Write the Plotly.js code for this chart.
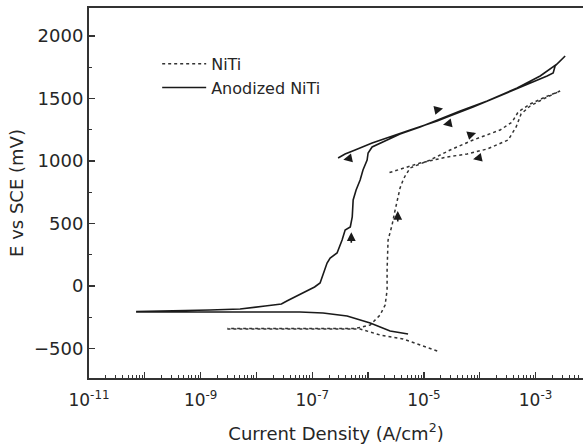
<!DOCTYPE html>
<html>
<head>
<meta charset="utf-8">
<script src="https://cdn.plot.ly/plotly-3.0.1.min.js"></script>
<style>html,body{margin:0;padding:0;background:#fff;overflow:hidden}#chart{width:583px;height:446px}</style>
</head>
<body>
<div id="chart"></div>
<script>
// NiTi (dotted): cathodic branch, anodic rise, cyclic loop
const nitiCurrent = [1.73e-5, 8.55e-6, 4.24e-6, 1.64e-6, 7.2e-7, 3.1e-9,
  3.1e-9, 5.85e-7, 1.09e-6, 1.64e-6, 2.02e-6, 2.19e-6, 2.19e-6, 2.28e-6, 2.69e-6, 3.05e-6, 3.45e-6, 3.74e-6, 4.24e-6, 4.6e-6,
  5.66e-6, 1.29e-5, 2.95e-5, 7.6e-5, 2.32e-4, 3.81e-4, 4.88e-4, 8.0e-4, 1.49e-3, 2.76e-3,
  1.49e-3, 8.0e-4, 5.5e-4, 4.49e-4, 3.23e-4, 1.36e-4, 5.94e-5, 2.61e-5, 8.55e-6, 3.74e-6, 2.28e-6];
const nitiPotential = [-520, -472, -424, -392, -344, -344,
  -340, -340, -312, -232, -152, -32, 128, 368, 488, 608, 728, 784, 848, 880,
  944, 1008, 1088, 1168, 1248, 1312, 1392, 1456, 1512, 1560,
  1504, 1440, 1376, 1272, 1168, 1096, 1056, 1032, 984, 936, 904];

// Anodized NiTi (solid)
const anodCurrent = [5.2e-6, 2.48e-6, 1.09e-6, 4.2e-7, 1.56e-7, 6.0e-8, 7.2e-11,
  7.2e-11, 1.47e-9, 5.1e-9, 1.43e-8, 1.98e-8, 2.8e-8, 3.5e-8, 5.4e-8, 7.5e-8, 1.1e-7, 1.38e-7,
  1.84e-7, 2.09e-7, 2.78e-7, 3.42e-7, 3.88e-7, 4.8e-7, 5.2e-7, 5.4e-7, 6.1e-7, 7.2e-7, 8.1e-7, 9.6e-7, 1.0e-6,
  1.18e-6, 2.02e-6, 3.74e-6, 8.55e-6, 1.95e-5, 4.46e-5, 1.36e-4, 4.68e-4, 1.21e-3, 2.44e-3, 3.39e-3,
  2.24e-3, 2.07e-3, 1.61e-3, 6.0e-4, 2.05e-4, 7.6e-5, 2.61e-5, 1.73e-5, 5.66e-6, 2.48e-6, 1.18e-6, 5.85e-7, 3.87e-7, 2.9e-7];
const anodPotential = [-384, -360, -296, -240, -216, -208, -208,
  -204, -192, -184, -160, -152, -144, -120, -80, -48, -8, 24,
  184, 224, 264, 368, 448, 472, 552, 688, 768, 848, 928, 1008, 1064,
  1112, 1160, 1216, 1272, 1336, 1400, 1480, 1584, 1680, 1776, 1840,
  1760, 1704, 1680, 1600, 1512, 1432, 1352, 1320, 1248, 1192, 1144, 1088, 1056, 1024];

// scan-direction arrows (head position on the curve, direction in screen px)
const arrowCurrent = [3.6e-7, 5.0e-7, 2.2e-5, 2.2e-5, 3.4e-6, 8.6e-5, 7.6e-5];
const arrowPotential = [1010, 430, 1420, 1290, 600, 1225, 1015];
const arrowDx = [9, 0, -9, 9, 0, -9, 9];
const arrowDy = [-2, 12, 2, -2, 12, 3, -2];

const seriesNames = ['NiTi', 'Anodized NiTi'];
const decadeTicks = [1e-11, 1e-10, 1e-9, 1e-8, 1e-7, 1e-6, 1e-5, 1e-4, 1e-3];
const decadeLabels = ['10<sup>-11</sup>', ' ', '10<sup>-9</sup>', ' ', '10<sup>-7</sup>', ' ', '10<sup>-5</sup>', ' ', '10<sup>-3</sup>'];
const potentialTicks = [-500, 0, 500, 1000, 1500, 2000];

const minorVals = [];
decadeTicks.concat([1e-2]).forEach(d => { for (let k = 2; k <= 9; k++) minorVals.push(d * k); });

const FONT = 'DejaVu Sans, sans-serif';
const INK = '#262626';

const traces = [
  {x: nitiCurrent, y: nitiPotential, name: seriesNames[0], mode: 'lines', type: 'scatter',
   line: {color: '#333', width: 1.5, dash: 'dot'}},
  {x: anodCurrent, y: anodPotential, name: seriesNames[1], mode: 'lines', type: 'scatter',
   line: {color: '#1a1a1a', width: 1.6}}
];

const annotations = arrowCurrent.map((c, i) => ({
  x: Math.log10(c), y: arrowPotential[i], xref: 'x', yref: 'y',
  ax: arrowDx[i], ay: arrowDy[i], text: '', showarrow: true,
  arrowhead: 2, arrowsize: 1.1, arrowwidth: 1.6, arrowcolor: '#1a1a1a'
}));

const layout = {
  width: 583, height: 446,
  margin: {l: 89, r: 0, t: 8, b: 68},
  paper_bgcolor: '#fff', plot_bgcolor: '#fff',
  font: {family: FONT, size: 18, color: INK},
  showlegend: true,
  legend: {x: 0.138, y: 0.895, xanchor: 'left', yanchor: 'top', bgcolor: 'rgba(0,0,0,0)',
           itemwidth: 44, font: {family: FONT, size: 16, color: INK}, tracegroupgap: 0},
  annotations: annotations,
  xaxis: {
    type: 'log', range: [-11, -2.15],
    tickmode: 'array', tickvals: decadeTicks, ticktext: decadeLabels,
    ticks: 'inside', ticklen: 6, tickwidth: 1.3, tickcolor: '#333',
    minor: {tickmode: 'array', tickvals: minorVals, ticks: 'inside', ticklen: 3, tickwidth: 1, tickcolor: '#333', showgrid: false},
    showline: true, linewidth: 2, linecolor: '#333', mirror: true,
    showgrid: false, zeroline: false,
    ticklabelstandoff: 6,
    tickfont: {family: FONT, size: 17, color: INK},
    title: {text: 'Current Density (A/cm<sup>2</sup>)', font: {family: FONT, size: 18, color: INK}, standoff: 18}
  },
  yaxis: {
    range: [-736, 2224],
    tickmode: 'array', tickvals: potentialTicks,
    ticks: 'inside', ticklen: 6, tickwidth: 1.3, tickcolor: '#333',
    minor: {dtick: 250, ticks: 'inside', ticklen: 3, tickwidth: 1, tickcolor: '#333', showgrid: false},
    showline: true, linewidth: 2, linecolor: '#333', mirror: false,
    showgrid: false, zeroline: false,
    tickfont: {family: FONT, size: 18, color: INK},
    title: {text: 'E vs SCE (mV)', font: {family: FONT, size: 18, color: INK}, standoff: 6}
  }
};

Plotly.newPlot('chart', traces, layout, {staticPlot: true, displayModeBar: false});
</script>
</body>
</html>
